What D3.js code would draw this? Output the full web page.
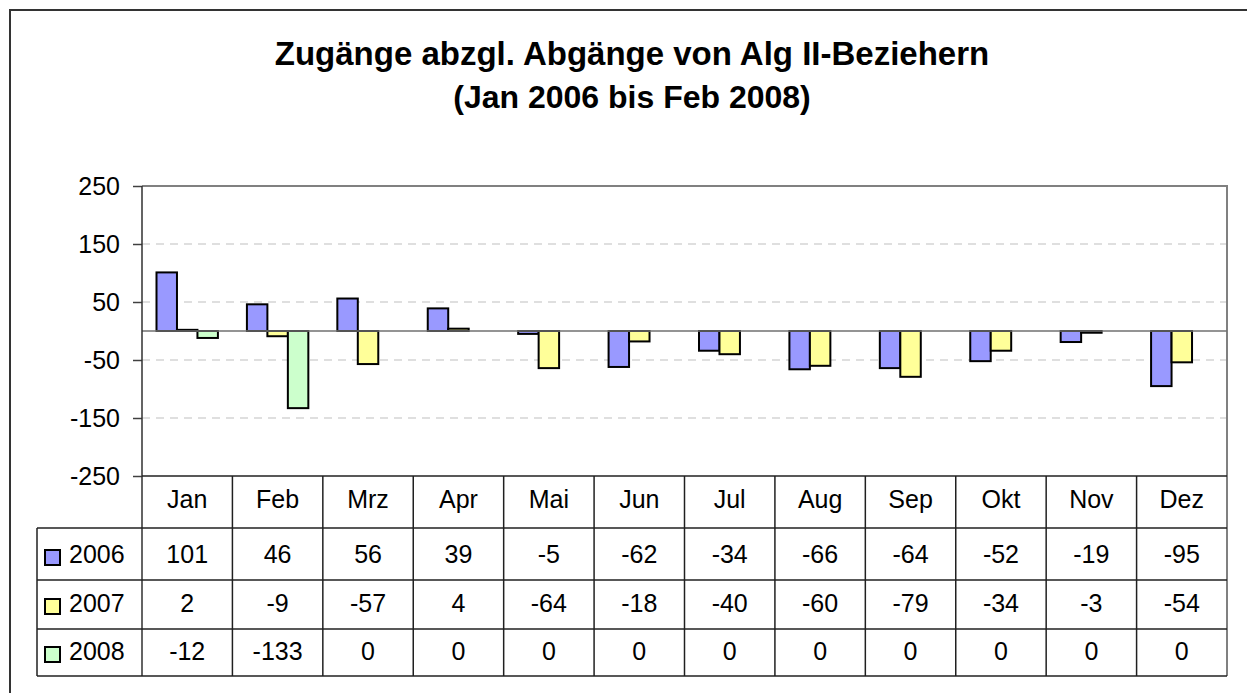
<!DOCTYPE html>
<html>
<head>
<meta charset="utf-8">
<script src="https://cdn.jsdelivr.net/npm/d3@7"></script>
<style>
  html, body { margin: 0; padding: 0; background: #fff; }
  svg { display: block; font-family: "Liberation Sans", Arial, sans-serif; }
</style>
</head>
<body>
<svg id="chart" width="1247" height="693"></svg>
<script>
const months = ["Jan","Feb","Mrz","Apr","Mai","Jun","Jul","Aug","Sep","Okt","Nov","Dez"];
const seriesNames = ["2006","2007","2008"];
const values2006 = [101, 46, 56, 39, -5, -62, -34, -66, -64, -52, -19, -95];
const values2007 = [2, -9, -57, 4, -64, -18, -40, -60, -79, -34, -3, -54];
const values2008 = [-12, -133, 0, 0, 0, 0, 0, 0, 0, 0, 0, 0];
const yTicks = [-250, -150, -50, 50, 150, 250];
const titleLines = ["Zugänge abzgl. Abgänge von Alg II-Beziehern", "(Jan 2006 bis Feb 2008)"];
const colors = ["#9999FF", "#FFFF99", "#CCFFCC"];

const seriesValues = [values2006, values2007, values2008];
const svg = d3.select("#chart");

// outer chart border
svg.append("path").attr("d", "M10,693 L10,10 L1247,10")
  .attr("fill", "none").attr("stroke", "#333").attr("stroke-width", 2);

// title
svg.append("text").attr("x", 632).attr("y", 65).attr("text-anchor", "middle")
  .attr("font-size", 33).attr("font-weight", "bold").text(titleLines[0]);
svg.append("text").attr("x", 632).attr("y", 108).attr("text-anchor", "middle")
  .attr("font-size", 32).attr("font-weight", "bold").text(titleLines[1]);

const pL = 142, pR = 1227, pT = 186, pB = 476;
const x = d3.scaleBand().domain(months).range([pL, pR]).paddingInner(0).paddingOuter(0);
const bw = x.bandwidth();
const x1 = d3.scaleBand().domain(seriesNames).range([14.5, bw - 14.5]).padding(0);
const y = d3.scaleLinear().domain([-250, 250]).range([pB, pT]);

// gridlines
svg.append("g").selectAll("line").data(yTicks.filter(t => t !== -250 && t !== 250)).join("line")
  .attr("x1", pL).attr("x2", pR).attr("y1", d => y(d)).attr("y2", d => y(d))
  .attr("stroke", "#c0c0c0").attr("stroke-width", 1.2).attr("stroke-dasharray", "8,6");

// plot frame top/right
svg.append("path").attr("d", `M${pL},${pT} L${pR},${pT} L${pR},676`)
  .attr("fill", "none").attr("stroke", "#808080").attr("stroke-width", 2);

// bars
const data = [];
months.forEach((m, i) => seriesNames.forEach((s, j) => data.push({m, s, j, v: seriesValues[j][i]})));
svg.append("g").selectAll("rect").data(data.filter(d => d.v !== 0)).join("rect")
  .attr("x", d => x(d.m) + x1(d.s))
  .attr("width", x1.bandwidth())
  .attr("y", d => Math.min(y(d.v), y(0)))
  .attr("height", d => Math.abs(y(d.v) - y(0)))
  .attr("fill", d => colors[d.j]).attr("stroke", "#000").attr("stroke-width", 2);

// zero line
svg.append("line").attr("x1", pL).attr("x2", pR).attr("y1", y(0)).attr("y2", y(0))
  .attr("stroke", "#707070").attr("stroke-width", 1.5);

// y axis
const yAxis = d3.axisLeft(y).tickValues(yTicks).tickSize(9).tickPadding(13).tickFormat(d => String(d));
const ga = svg.append("g").attr("transform", `translate(${pL},0)`).call(yAxis);
ga.select(".domain").remove();
ga.selectAll(".tick line").attr("stroke", "#404040").attr("stroke-width", 1.5);
ga.selectAll(".tick text").attr("font-size", 25).attr("fill", "#000")
  .attr("font-family", "Liberation Sans, Arial, sans-serif");

// left axis line
svg.append("line").attr("x1", pL).attr("x2", pL).attr("y1", pT).attr("y2", 676)
  .attr("stroke", "#303030").attr("stroke-width", 1.5);

// data table
const rowLines = [476, 528, 580, 629, 676];
const tableLeft = 37;
svg.append("line").attr("x1", pL).attr("x2", pR).attr("y1", rowLines[0]).attr("y2", rowLines[0])
  .attr("stroke", "#202020").attr("stroke-width", 1.5);
svg.append("g").selectAll("line").data(rowLines.slice(1)).join("line")
  .attr("x1", tableLeft).attr("x2", pR).attr("y1", d => d).attr("y2", d => d)
  .attr("stroke", "#202020").attr("stroke-width", 1.5);
svg.append("line").attr("x1", tableLeft).attr("x2", tableLeft).attr("y1", rowLines[1]).attr("y2", rowLines[4])
  .attr("stroke", "#202020").attr("stroke-width", 1.5);
svg.append("g").selectAll("line").data(months.slice(1)).join("line")
  .attr("x1", d => x(d)).attr("x2", d => x(d)).attr("y1", rowLines[0]).attr("y2", rowLines[4])
  .attr("stroke", "#202020").attr("stroke-width", 1.5);

// category labels
svg.append("g").selectAll("text").data(months).join("text")
  .attr("x", d => x(d) + bw / 2).attr("y", 508).attr("text-anchor", "middle")
  .attr("font-size", 25).text(d => d);

// rows
const rowBase = [563, 612, 660];
seriesNames.forEach((s, j) => {
  svg.append("rect").attr("x", 45).attr("y", rowBase[j] - 13).attr("width", 15).attr("height", 15)
    .attr("fill", colors[j]).attr("stroke", "#000").attr("stroke-width", 2);
  svg.append("text").attr("x", 69).attr("y", rowBase[j]).attr("font-size", 25).text(s);
  svg.append("g").selectAll("text").data(seriesValues[j]).join("text")
    .attr("x", (d, i) => x(months[i]) + bw / 2).attr("y", rowBase[j]).attr("text-anchor", "middle")
    .attr("font-size", 25).text(d => d);
});
</script>
</body>
</html>
